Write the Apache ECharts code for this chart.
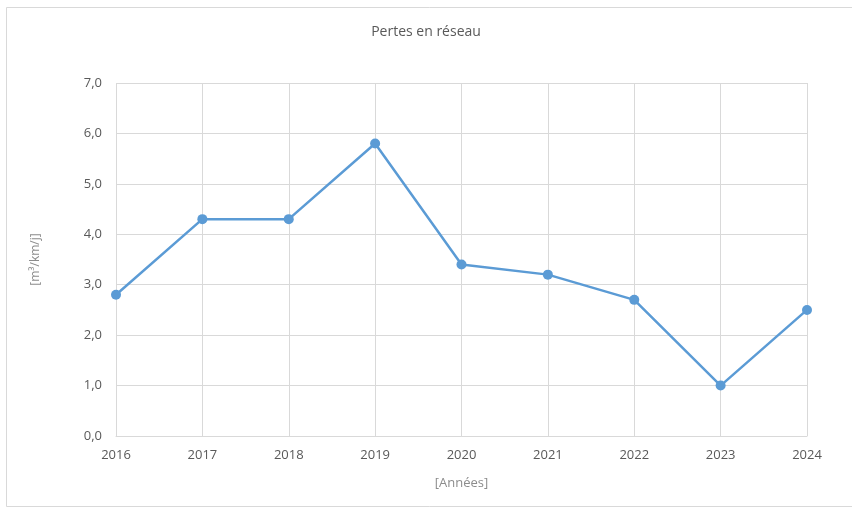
<!DOCTYPE html>
<html>
<head>
<meta charset="utf-8">
<script src="https://cdn.jsdelivr.net/npm/echarts@6/dist/echarts.min.js"></script>
<style>
  html, body { margin: 0; padding: 0; background: #fff; }
  #chart { width: 852px; height: 510px; }
</style>
</head>
<body>
<div id="chart"></div>
<script>
    // données
    var years = ['2016', '2017', '2018', '2019', '2020', '2021', '2022', '2023', '2024'];
    var pertes = [2.8, 4.3, 4.3, 5.8, 3.4, 3.2, 2.7, 1.0, 2.5];

    var chart = echarts.init(document.getElementById('chart'));
    chart.setOption({
        backgroundColor: '#fff',
        textStyle: { fontFamily: 'Open Sans' },
        graphic: [{
            type: 'rect',
            shape: { x: 6.5, y: 7.5, width: 860, height: 499 },
            style: { fill: 'none', stroke: '#d9d9d9', lineWidth: 1 },
            silent: true
        }],
        title: {
            text: 'Pertes en réseau',
            left: 'center',
            top: 20,
            textStyle: { color: '#595959', fontSize: 14, fontWeight: 'normal' }
        },
        grid: { left: 116, right: 45, top: 83, bottom: 74 },
        xAxis: {
            type: 'category',
            data: years,
            boundaryGap: false,
            name: '[Années]',
            nameLocation: 'middle',
            nameGap: 41,
            nameTextStyle: { color: '#8c8c8c', fontSize: 13 },
            axisLine: { lineStyle: { color: '#d9d9d9' } },
            axisTick: { show: false },
            axisLabel: { color: '#595959', fontSize: 13, margin: 13 },
            splitLine: { show: true, lineStyle: { color: '#d9d9d9' } }
        },
        yAxis: {
            type: 'value',
            min: 0,
            max: 7,
            interval: 1,
            name: '[m³/km/j]',
            nameLocation: 'middle',
            nameGap: 74,
            nameRotate: 90,
            nameTextStyle: { color: '#8c8c8c', fontSize: 12 },
            axisLine: { show: false },
            axisTick: { show: false },
            axisLabel: {
                color: '#595959',
                fontSize: 13,
                margin: 14,
                formatter: function (v) { return v.toFixed(1).replace('.', ','); }
            },
            splitLine: { lineStyle: { color: '#d9d9d9' } }
        },
        series: [{
            name: 'Pertes',
            type: 'line',
            data: pertes,
            symbol: 'circle',
            symbolSize: 10,
            lineStyle: { color: '#5b9bd5', width: 2.5 },
            itemStyle: { color: '#5b9bd5' }
        }]
    });
</script>
</body>
</html>
